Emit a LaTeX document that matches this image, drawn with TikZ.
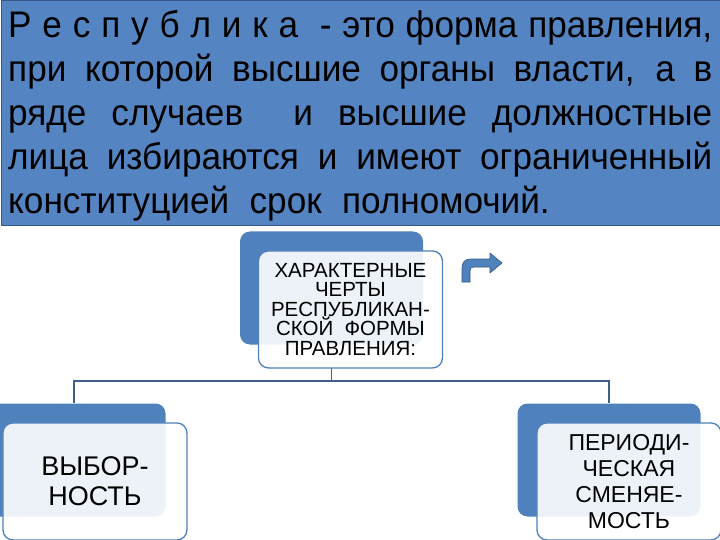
\documentclass[tikz,border=0pt]{standalone}
\usepackage{fontspec}
\setmainfont{Liberation Sans}
\newfontfamily\bannerfont[FakeStretch=0.95]{Liberation Sans}
\usetikzlibrary{positioning}
\definecolor{bannerblue}{RGB}{84,132,194}
\definecolor{bannerline}{RGB}{52,88,136}
\definecolor{boxblue}{RGB}{79,129,189}
\definecolor{linkblue}{RGB}{64,96,140}

\begin{document}
\begin{tikzpicture}[x=1pt, y=-1pt,
  back/.style={fill=boxblue, rounded corners=10pt, minimum width=183pt,
               minimum height=113pt, inner sep=0pt},
  front/.style={draw=boxblue, line width=1.3pt, fill=white, fill opacity=0.9,
                text opacity=1, rounded corners=10pt, minimum width=184pt,
                minimum height=117pt, inner sep=0pt, align=center, anchor=north west},
  link/.style={draw=linkblue, line width=1.2pt},
]
\useasboundingbox (0,0) rectangle (720,540);

%% ---- Banner ----
\node[draw=bannerline, line width=1pt, fill=bannerblue, minimum width=719pt,
      minimum height=225pt, anchor=north west, inner sep=0pt] (banner) at (0.5,0.5) {};
\node[anchor=north west, text width=704pt, align=justify, inner sep=0pt,
      font=\bannerfont\fontsize{37}{44}\selectfont] (deftext) at (8,10)
  {Р е с п у б л и к а \ - это форма правления,\linebreak
   при которой высшие органы власти, а в\linebreak
   ряде случаев \ и высшие должностные\linebreak
   лица избираются и имеют ограниченный\linebreak
   конституцией\hspace{0.55em}срок\hspace{0.55em}полномочий.};

%% ---- Back boxes ----
\node[back] (topb)   at (331.5,288) {};
\node[back] (leftb)  at (74,460)    {};
\node[back] (rightb) at (609,460)   {};

%% ---- Connectors ----
\draw[link] (topb.south |- 0,368) -- (331.5,381) -| (leftb.north);
\draw[link] (331.5,381) -| (rightb.north);

%% ---- Front boxes ----
\node[front, font=\fontsize{20.5}{19.5}\selectfont] (topf)
    at ([shift={(18,19)}]topb.north west)
    {ХАРАКТЕРНЫЕ\\ЧЕРТЫ\\РЕСПУБЛИКАН-\\СКОЙ \ ФОРМЫ\\ПРАВЛЕНИЯ:};
\node[front, font=\fontsize{27}{30}\selectfont] (leftf)
    at ([shift={(20,19)}]leftb.north west)
    {ВЫБОР-\\НОСТЬ};
\node[front, font=\fontsize{23}{26}\selectfont] (rightf)
    at ([shift={(19,19)}]rightb.north west)
    {ПЕРИОДИ-\\ЧЕСКАЯ\\СМЕНЯЕ-\\МОСТЬ};

%% ---- Bent arrow ----
\draw[fill=boxblue, draw=bannerline, line width=0.6pt, line join=round]
  (462,282) -- (462,268) .. controls (462,262) and (465,259) .. (471,259)
  -- (490,259) -- (490,253) -- (502,263) -- (490,273) -- (490,267)
  -- (474,267) .. controls (471,267) and (470,268) .. (470,271) -- (470,282) -- cycle;
\end{tikzpicture}
\end{document}
